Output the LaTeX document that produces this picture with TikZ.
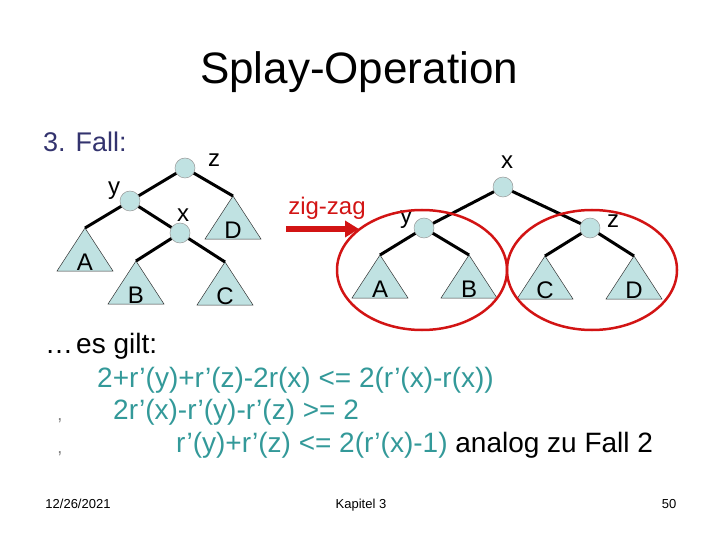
\documentclass[tikz,border=0pt]{standalone}
\usepackage{fontspec}
\setmainfont{Liberation Sans}
\usetikzlibrary{arrows.meta,shapes.geometric}
\definecolor{tealtxt}{RGB}{51,153,153}
\definecolor{navytxt}{RGB}{51,51,110}
\definecolor{nfill}{RGB}{192,226,226}
\definecolor{redc}{RGB}{210,20,20}
\tikzset{
  tnode/.style={circle,minimum size=20pt,inner sep=0pt,fill=nfill,draw=gray!80,line width=0.5pt},
  tri/.style={fill=nfill,draw=black!80,line width=0.5pt},
  edge/.style={line width=3pt,black},
  lbl/.style={font=\fontsize{24}{26}\selectfont,inner sep=0pt},
  redell/.style={ellipse,draw=redc,line width=2.5pt,minimum width=170pt,minimum height=120pt,inner sep=0pt},
  redarrow/.style={redc,line width=5.5pt,-{Triangle[length=14pt,width=16pt]}},
  body/.style={font=\fontsize{28}{30}\selectfont,inner sep=0pt,anchor=base west},
  foot/.style={font=\fontsize{13}{15}\selectfont,inner sep=0pt,anchor=base},
  bul/.style={font=\fontsize{18}{20}\selectfont,text=gray,inner sep=0pt,anchor=base}
}
\newcommand\subtree[4]{%
  \coordinate (#1) at (#2,#3);
  \draw[tri] (#1) -- ++(-28,43) -- ++(56,0) -- cycle;
  \path (#1) ++(0,34) node[lbl] (#1l) {#4};
}
\begin{document}
\begin{tikzpicture}[x=1pt,y=-1pt]
\useasboundingbox (0,0) rectangle (720,540);
% title
\node[font=\fontsize{44}{48}\selectfont,inner sep=0pt,anchor=base] (title) at (359,84) {Splay-Operation};
\node[font=\fontsize{27}{29}\selectfont,text=navytxt,inner sep=0pt,anchor=base west] (fall) at (43,152) {3. Fall:};
% left tree
\subtree{LA}{85}{228}{A}
\subtree{LB}{136}{261}{B}
\subtree{LC}{225}{262}{C}
\subtree{LD}{233}{196}{D}
\node[tnode] (Lz) at (185,168) {};
\node[tnode] (Ly) at (130,201) {};
\node[tnode] (Lx) at (180,233) {};
\draw[edge] (Lz) -- (Ly);
\draw[edge] (Lz) -- (LD);
\draw[edge] (Ly) -- (LA);
\draw[edge] (Ly) -- (Lx);
\draw[edge] (Lx) -- (LB);
\draw[edge] (Lx) -- (LC);
\node[lbl] (Lzl) at (214,160) {z};
\node[lbl] (Lyl) at (114,191) {y};
\node[lbl] (Lxl) at (183,215) {x};
% arrow
\node[lbl,text=redc] (zz) at (327,208) {zig-zag};
\coordinate (arrS) at (286,229);
\coordinate (arrE) at (359,229);
\draw[redarrow] (arrS) -- (arrE);
% right tree
\subtree{RA}{380}{255}{A}
\subtree{RB}{469}{255}{B}
\subtree{RC}{545}{256}{C}
\subtree{RD}{634}{256}{D}
\node[tnode] (Rx) at (503,187) {};
\node[tnode] (Ry) at (424,228) {};
\node[tnode] (Rz) at (590,228) {};
\draw[edge] (Rx) -- (Ry);
\draw[edge] (Rx) -- (Rz);
\draw[edge] (Ry) -- (RA);
\draw[edge] (Ry) -- (RB);
\draw[edge] (Rz) -- (RC);
\draw[edge] (Rz) -- (RD);
\node[lbl] (Rxl) at (507,162) {x};
\node[lbl] (Ryl) at (406,220) {y};
\node[lbl] (Rzl) at (613,221) {z};
\node[redell] (el1) at (422,270) {};
\node[redell] (el2) at (592,270) {};
% text
\node[body] (es) at (45,353) {\dots\kern3pt es gilt:};
\node[body,text=tealtxt] (l1) at (97,387) {2+r’(y)+r’(z)-2r(x) <= 2(r’(x)-r(x))};
\node[body,text=tealtxt] (l2) at (113,419) {2r’(x)-r’(y)-r’(z) >= 2};
\node[body,text=tealtxt] (l3) at (176,452) {r’(y)+r’(z) <= 2(r’(x)-1) \textcolor{black}{analog zu Fall 2}};
\node[bul] (b1) at (60,420) {,};
\node[bul] (b2) at (60,453) {,};
% footer
\node[foot] (date) at (78,508) {12/26/2021};
\node[foot] (kap) at (361,508) {Kapitel 3};
\node[foot] (num) at (669,508) {50};
\end{tikzpicture}
\end{document}
